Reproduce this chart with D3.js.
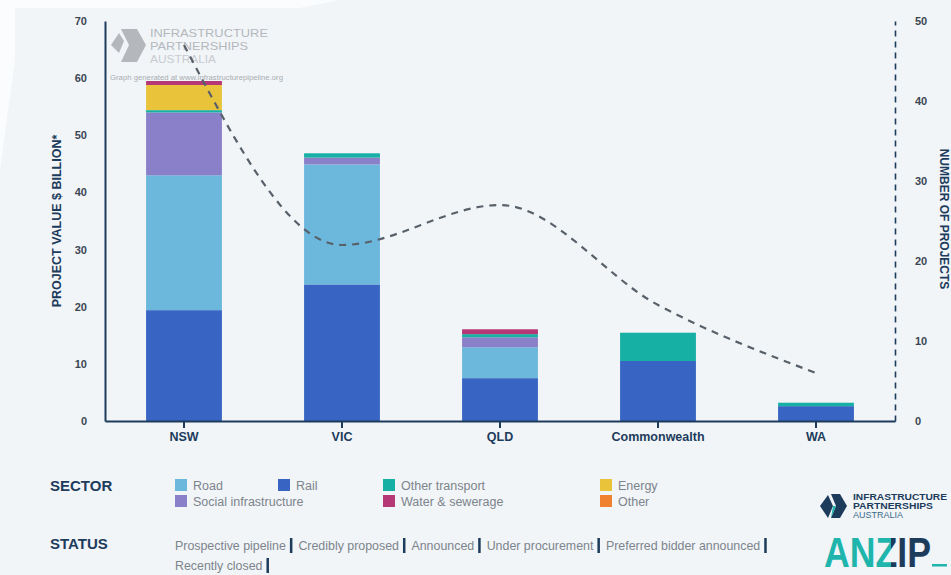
<!DOCTYPE html>
<html><head><meta charset="utf-8">
<script src="https://cdn.jsdelivr.net/npm/d3@7"></script>
<style>body{margin:0;background:#f1f5f8} svg{display:block}</style>
</head><body><svg id="c" width="951" height="575"></svg>
<script>
// ---------- data ----------
const categories = ["NSW", "VIC", "QLD", "Commonwealth", "WA"];
const sectorKeys = ["Rail", "Road", "Social infrastructure", "Other transport", "Energy", "Water & sewerage", "Other"];
const rail            = [19.4, 23.9, 7.5, 10.5, 2.6];
const road            = [23.6, 21.0, 5.4, 0, 0];
const social          = [11.0, 1.2, 1.75, 0, 0];
const otherTransport  = [0.4, 0.75, 0.55, 4.95, 0.6];
const energy          = [4.4, 0, 0, 0, 0];
const water           = [0.7, 0, 0.85, 0, 0];
const otherSector     = [0, 0, 0, 0, 0];
const projectCounts   = [47, 22, 27, 14.5, 6];
const leftTicks  = [0, 10, 20, 30, 40, 50, 60, 70];
const rightTicks = [0, 10, 20, 30, 40, 50];
const legendRows = [["Road", "Rail", "Other transport", "Energy"], ["Social infrastructure", "Water & sewerage", "Other"]];
const statusLabels = ["Prospective pipeline", "Credibly proposed", "Announced", "Under procurement", "Preferred bidder announced", "Recently closed"];

const colors = {
  "Road": "#6cb7dc", "Rail": "#3865c3", "Other transport": "#16b0a5", "Energy": "#e9c43b",
  "Social infrastructure": "#8a7fc9", "Water & sewerage": "#b63776", "Other": "#f08130"
};
const NAVY = "#1d3c5c";
const TEAL = "#1fb5ad";
const FONT = "'Liberation Sans', Arial, sans-serif";

const seriesValues = {
  "Rail": rail, "Road": road, "Social infrastructure": social, "Other transport": otherTransport,
  "Energy": energy, "Water & sewerage": water, "Other": otherSector
};
const rows = categories.map((c, i) => {
  const r = { cat: c };
  sectorKeys.forEach(k => r[k] = seriesValues[k][i]);
  return r;
});

// ---------- canvas ----------
const W = 951, H = 575;
const svg = d3.select("#c").style("font-family", FONT);
svg.append("rect").attr("width", W).attr("height", H).attr("fill", "#f1f5f8");
svg.append("path").attr("d", "M0,0H340L300,8H15V60L0,170Z").attr("fill", "#fafcfd");

const x = d3.scaleBand().domain(categories).range([105, 895]).paddingInner(0.52).paddingOuter(0.26);
const y = d3.scaleLinear().domain([0, 70]).range([421, 21]);
const y2 = d3.scaleLinear().domain([0, 50]).range([421, 21]);

// ---------- watermark ----------
const wm = svg.append("g").attr("fill", "#b4b8bd");
wm.append("path").attr("d", "M111,45 L119,33 L124,41 L119,53 Z");
wm.append("path").attr("d", "M121,29 L137,29 L146,45 L137,62 L121,62 L129,45 Z");
wm.append("text").attr("x", 150).attr("y", 37).attr("font-size", 11).text("INFRASTRUCTURE").attr("textLength", 118).attr("lengthAdjust", "spacingAndGlyphs");
wm.append("text").attr("x", 150).attr("y", 50).attr("font-size", 11).text("PARTNERSHIPS").attr("textLength", 98).attr("lengthAdjust", "spacingAndGlyphs");
wm.append("text").attr("x", 150).attr("y", 63).attr("font-size", 11).attr("fill", "#c8ccd0").text("AUSTRALIA").attr("textLength", 66).attr("lengthAdjust", "spacingAndGlyphs");
wm.append("text").attr("x", 110).attr("y", 80).attr("font-size", 8).attr("fill", "#a9adb2").text("Graph generated at www.infrastructurepipeline.org").attr("textLength", 173).attr("lengthAdjust", "spacingAndGlyphs");

// ---------- bars ----------
const stacked = d3.stack().keys(sectorKeys)(rows);
svg.append("g").selectAll("g").data(stacked).join("g")
  .attr("fill", d => colors[d.key])
  .selectAll("rect").data(d => d).join("rect")
  .attr("x", d => x(d.data.cat))
  .attr("width", x.bandwidth())
  .attr("y", d => y(d[1]))
  .attr("height", d => Math.max(0, y(d[0]) - y(d[1])));

// ---------- axes ----------
function styleAxis(g) {
  g.selectAll(".domain").attr("stroke", NAVY).attr("stroke-width", 2);
  g.selectAll(".tick line").attr("stroke", NAVY).attr("stroke-width", 2);
  g.selectAll("text").attr("font-family", FONT).attr("font-weight", "bold");
}
const gl = svg.append("g").attr("transform", "translate(105,0)")
  .call(d3.axisLeft(y).tickValues(leftTicks).tickSize(0).tickPadding(18).tickFormat(d3.format("d")));
styleAxis(gl);
gl.selectAll("text").attr("font-size", 11).attr("fill", "#3b4654");

const gr = svg.append("g").attr("transform", "translate(895,0)")
  .call(d3.axisRight(y2).tickValues(rightTicks).tickSize(0).tickPadding(20).tickFormat(d3.format("d")));
styleAxis(gr);
gr.select(".domain").attr("stroke-dasharray", "6,5").attr("stroke-width", 1.6);
gr.selectAll("text").attr("font-size", 11).attr("fill", "#3b4654");

const gb = svg.append("g").attr("transform", "translate(0,421)")
  .call(d3.axisBottom(x).tickSize(7).tickSizeOuter(0).tickPadding(4));
styleAxis(gb);
gb.selectAll("text").attr("font-size", 12.5).attr("fill", NAVY);

// axis titles
svg.append("text").attr("transform", "translate(61,221) rotate(-90)")
  .attr("text-anchor", "middle").attr("font-size", 12.5).attr("font-weight", "bold").attr("fill", NAVY)
  .text("PROJECT VALUE $ BILLION*");
svg.append("text").attr("transform", "translate(940,219) rotate(90)")
  .attr("text-anchor", "middle").attr("font-size", 12).attr("font-weight", "bold").attr("fill", NAVY)
  .text("NUMBER OF PROJECTS");

// ---------- project count line ----------
const line = d3.line()
  .x((d, i) => x(categories[i]) + x.bandwidth() / 2)
  .y(d => y2(d))
  .curve(d3.curveMonotoneX);
svg.append("path").datum(projectCounts).attr("d", line)
  .attr("fill", "none").attr("stroke", "#58606a").attr("stroke-width", 2.2).attr("stroke-dasharray", "7,6");

// ---------- legend ----------
svg.append("text").attr("x", 50).attr("y", 491).attr("font-size", 15).attr("font-weight", "bold").attr("fill", NAVY).text("SECTOR");
const legendCols = [[175, 278, 383, 600], [175, 383, 600]];
legendRows.forEach((row, ri) => {
  row.forEach((k, ci) => {
    const g = svg.append("g").attr("transform", `translate(${legendCols[ri][ci]},${479 + ri * 16})`);
    g.append("rect").attr("width", 12).attr("height", 12).attr("fill", colors[k]);
    g.append("text").attr("x", 18).attr("y", 11).attr("font-size", 12.5).attr("fill", "#7d848c").text(k);
  });
});

svg.append("text").attr("x", 50).attr("y", 549).attr("font-size", 15).attr("font-weight", "bold").attr("fill", NAVY).text("STATUS");
let sx = 175, sy = 550;
statusLabels.forEach((s, i) => {
  if (i === 5) { sx = 175; sy = 570; }
  const t = svg.append("text").attr("x", sx).attr("y", sy).attr("font-size", 12.4).attr("fill", "#7d848c").text(s);
  const w = t.node().getComputedTextLength();
  svg.append("rect").attr("x", sx + w + 4).attr("y", sy - 12).attr("width", 2.5).attr("height", 15).attr("fill", NAVY);
  sx += w + 12.5;
});

// ---------- logos ----------
const defs = svg.append("defs");
const grad = defs.append("linearGradient").attr("id", "anzipFill")
  .attr("gradientUnits", "userSpaceOnUse").attr("x1", 824).attr("x2", 931).attr("y1", 0).attr("y2", 0);
grad.append("stop").attr("offset", 0.625).attr("stop-color", TEAL);
grad.append("stop").attr("offset", 0.625).attr("stop-color", NAVY);

const lg = svg.append("g");
lg.append("path").attr("d", "M820,506 L828,495 L833,506 L828,518 Z").attr("fill", NAVY);
lg.append("path").attr("d", "M831,494 L840,494 L847,506 L840,518 L831,518 L836,506 Z").attr("fill", NAVY);
lg.append("path").attr("d", "M833,506 L836,506 L831,518 Z").attr("fill", TEAL);
lg.append("text").attr("x", 853).attr("y", 500).attr("font-size", 8.5).attr("font-weight", "bold").attr("fill", NAVY)
  .text("INFRASTRUCTURE").attr("textLength", 94).attr("lengthAdjust", "spacingAndGlyphs");
lg.append("text").attr("x", 853).attr("y", 509).attr("font-size", 8.5).attr("font-weight", "bold").attr("fill", NAVY)
  .text("PARTNERSHIPS").attr("textLength", 80).attr("lengthAdjust", "spacingAndGlyphs");
lg.append("text").attr("x", 853).attr("y", 518).attr("font-size", 8.5).attr("fill", "#3a6a8a")
  .text("AUSTRALIA").attr("textLength", 50).attr("lengthAdjust", "spacingAndGlyphs");
lg.append("text").attr("x", 824).attr("y", 567).attr("font-size", 42).attr("font-weight", "bold")
  .attr("fill", "url(#anzipFill)")
  .attr("textLength", 107).attr("lengthAdjust", "spacingAndGlyphs").text("ANZIP");
lg.append("rect").attr("x", 932).attr("y", 564).attr("width", 15).attr("height", 2.5).attr("fill", TEAL);
</script>
</body></html>
